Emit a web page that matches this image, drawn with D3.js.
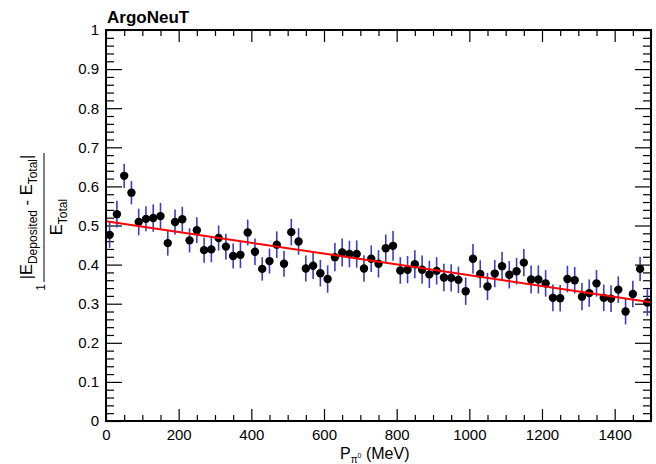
<!DOCTYPE html>
<html><head><meta charset="utf-8">
<script src="https://cdn.jsdelivr.net/npm/d3@7"></script>
<style>
html,body{margin:0;padding:0;background:#fff;}
svg text{font-family:"Liberation Sans",Arial,Helvetica,sans-serif;}
</style></head>
<body><svg id="c" width="656" height="464"></svg>
<script>
// ---- data ----
const binCenters = [10,30,50,70,90,110,130,150,170,190,210,230,250,270,290,310,330,350,370,390,
410,430,450,470,490,510,530,550,570,590,610,630,650,670,690,710,730,750,770,790,
810,830,850,870,890,910,930,950,970,990,1010,1030,1050,1070,1090,1110,1130,1150,1170,1190,
1210,1230,1250,1270,1290,1310,1330,1350,1370,1390,1410,1430,1450,1470,1490];
const ratioValues = [0.476,0.529,0.627,0.584,0.509,0.517,0.519,0.524,0.455,0.509,0.516,0.462,0.488,
0.437,0.439,0.468,0.446,0.422,0.425,0.482,0.433,0.389,0.409,0.451,0.402,0.483,
0.459,0.390,0.397,0.378,0.363,0.419,0.431,0.427,0.427,0.390,0.415,0.402,0.442,
0.448,0.385,0.387,0.401,0.387,0.375,0.384,0.367,0.366,0.361,0.332,0.415,0.376,0.344,
0.377,0.396,0.374,0.383,0.405,0.362,0.362,0.352,0.315,0.314,0.363,0.360,
0.318,0.327,0.352,0.315,0.313,0.336,0.280,0.325,0.389,0.303];
const ratioErrors = [0.033,0.034,0.031,0.030,0.034,0.032,0.035,0.034,0.032,0.032,0.032,0.031,0.033,
0.032,0.033,0.032,0.033,0.032,0.034,0.033,0.034,0.030,0.032,0.034,0.033,0.034,
0.034,0.033,0.034,0.034,0.035,0.036,0.036,0.034,0.035,0.034,0.034,0.035,0.035,
0.038,0.034,0.035,0.036,0.036,0.035,0.035,0.035,0.035,0.034,0.035,0.038,0.035,0.035,
0.035,0.036,0.035,0.034,0.035,0.036,0.036,0.034,0.034,0.034,0.034,0.034,
0.035,0.035,0.034,0.034,0.034,0.034,0.033,0.034,0.031,0.034];
const fitX = [0, 1500];
const fitY = [0.511, 0.304];
const xMajorTicks = [0,200,400,600,800,1000,1200,1400];
const xMinorTicks = [50,100,150,250,300,350,450,500,550,650,700,750,850,900,950,1050,1100,1150,1250,1300,1350,1450,1500];
const yMajorTicks = [0,0.1,0.2,0.3,0.4,0.5,0.6,0.7,0.8,0.9,1];
const yMinorTicks = [0.02,0.04,0.06,0.08,0.12,0.14,0.16,0.18,0.22,0.24,0.26,0.28,0.32,0.34,0.36,0.38,
0.42,0.44,0.46,0.48,0.52,0.54,0.56,0.58,0.62,0.64,0.66,0.68,0.72,0.74,0.76,0.78,0.82,0.84,0.86,0.88,0.92,0.94,0.96,0.98];
const titleText = "ArgoNeuT";

// ---- layout ----
const L = 106, R = 651, T = 30, B = 421;
const svg = d3.select("#c");
const x = d3.scaleLinear().domain([0,1500]).range([L,R]);
const y = d3.scaleLinear().domain([0,1]).range([B,T]);
const fmtY = d => (d===0||d===1) ? String(d) : d.toFixed(1);

function styleAxis(g){
  g.select(".domain").remove();
  g.selectAll(".tick line").attr("stroke","#000").attr("stroke-width",1.2);
  g.selectAll(".tick text").attr("fill","#000").style("font-size","15px");
}
// minor & major ticks, four sides
const yMajLen = 16, yMinLen = 8, xMajLen = 12, xMinLen = 6;
svg.append("g").attr("transform",`translate(${L},0)`)
  .call(d3.axisLeft(y).tickValues(yMajorTicks).tickSize(-yMajLen).tickPadding(7).tickFormat(fmtY)).call(styleAxis);
svg.append("g").attr("transform",`translate(${L},0)`)
  .call(d3.axisLeft(y).tickValues(yMinorTicks).tickSize(-yMinLen).tickFormat("")).call(styleAxis);
svg.append("g").attr("transform",`translate(${R},0)`)
  .call(d3.axisRight(y).tickValues(yMajorTicks).tickSize(-yMajLen).tickFormat("")).call(styleAxis);
svg.append("g").attr("transform",`translate(${R},0)`)
  .call(d3.axisRight(y).tickValues(yMinorTicks).tickSize(-yMinLen).tickFormat("")).call(styleAxis);
svg.append("g").attr("transform",`translate(0,${B})`)
  .call(d3.axisBottom(x).tickValues(xMajorTicks).tickSize(-xMajLen).tickPadding(8).tickFormat(d3.format("d"))).call(styleAxis);
svg.append("g").attr("transform",`translate(0,${B})`)
  .call(d3.axisBottom(x).tickValues(xMinorTicks).tickSize(-xMinLen).tickFormat("")).call(styleAxis);
svg.append("g").attr("transform",`translate(0,${T})`)
  .call(d3.axisTop(x).tickValues(xMajorTicks).tickSize(-xMajLen).tickFormat("")).call(styleAxis);
svg.append("g").attr("transform",`translate(0,${T})`)
  .call(d3.axisTop(x).tickValues(xMinorTicks).tickSize(-xMinLen).tickFormat("")).call(styleAxis);

// error bars
const pts = binCenters.map((c,i)=>({x:c,v:ratioValues[i],e:ratioErrors[i]}));
svg.append("g").selectAll("line").data(pts).join("line")
  .attr("x1",d=>x(d.x)).attr("x2",d=>x(d.x))
  .attr("y1",d=>y(d.v-d.e)).attr("y2",d=>y(d.v+d.e))
  .attr("stroke","#3c3cc8").attr("stroke-width",1.6);
// markers
svg.append("g").selectAll("circle").data(pts).join("circle")
  .attr("cx",d=>x(d.x)).attr("cy",d=>y(d.v)).attr("r",4.2).attr("fill","#000");
// fit line
svg.append("path").datum(fitX.map((v,i)=>[v,fitY[i]]))
  .attr("d",d3.line().x(d=>x(d[0])).y(d=>y(d[1])))
  .attr("stroke","#ff0000").attr("stroke-width",2).attr("fill","none");

// frame
svg.append("rect").attr("x",L).attr("y",T).attr("width",R-L).attr("height",B-T)
  .attr("fill","none").attr("stroke","#000").attr("stroke-width",2);

// title
svg.append("text").attr("x",107).attr("y",23).attr("font-weight","bold")
  .style("font-size","17px").attr("fill","#000").text(titleText);

// x axis title
const xt = svg.append("text").attr("x",340).attr("y",459).style("font-size","16px").attr("fill","#000");
xt.append("tspan").text("P");
xt.append("tspan").attr("dy",4).style("font-size","10px").text("π");
xt.append("tspan").attr("dy",-5).style("font-size","7px").text("0");
xt.append("tspan").attr("dy",1).text(" (MeV)");

// y axis title (rotated fraction)
const yg = svg.append("g").attr("transform","translate(44,282) rotate(-90)");
const num = yg.append("text").attr("x",65).attr("y",-12).attr("text-anchor","middle").style("font-size","16.5px").attr("fill","#000");
num.append("tspan").text("|E");
num.append("tspan").attr("dy",5).style("font-size","12px").text("Deposited");
num.append("tspan").attr("dy",-5).text(" - E");
num.append("tspan").attr("dy",5).style("font-size","12px").text("Total");
num.append("tspan").attr("dy",-5).text("|");
yg.append("line").attr("x1",0).attr("x2",129).attr("y1",0).attr("y2",0).attr("stroke","#000").attr("stroke-width",1);
const den = yg.append("text").attr("x",65).attr("y",18).attr("text-anchor","middle").style("font-size","16.5px").attr("fill","#000");
den.append("tspan").text("E");
den.append("tspan").attr("dy",5).style("font-size","12px").text("Total");
yg.append("text").attr("x",-2).attr("y",1).attr("text-anchor","end").style("font-size","12px").attr("fill","#000").text("1");
</script></body></html>
